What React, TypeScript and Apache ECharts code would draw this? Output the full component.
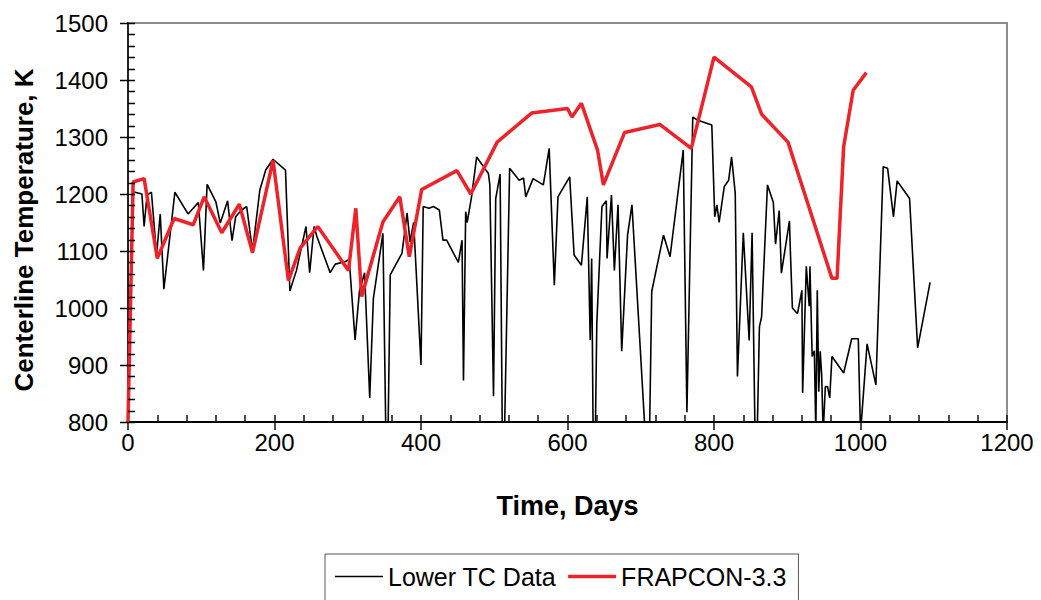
import React, { useEffect, useRef } from "react";
import * as echarts from "echarts";

const xTicks = [0, 200, 400, 600, 800, 1000, 1200];
const yTicks = [800, 900, 1000, 1100, 1200, 1300, 1400, 1500];

const lowerTCDays = [7, 19, 22, 26, 32, 39, 44, 49, 64, 82, 96, 103, 108, 120, 126, 136, 142, 147, 155, 162, 170, 180, 188, 198, 215, 221, 230, 243, 248, 254, 258, 276, 283, 296, 302, 310, 316, 323, 330, 335, 348, 352, 355, 358, 374, 381, 385, 390, 400, 403, 411, 417, 425, 430, 435, 451, 456, 458, 461, 463, 469, 476, 487, 492, 494, 499, 502, 508, 511, 514, 521, 534, 540, 543, 553, 567, 575, 582, 587, 603, 609, 619, 627, 631, 633, 635, 638, 640, 647, 653, 654, 660, 664, 669, 674, 682, 688, 706, 712, 715, 731, 740, 758, 763, 771, 777, 797, 801, 804, 807, 814, 820, 824, 829, 832, 840, 848, 852, 856, 859, 862, 865, 873, 881, 884, 889, 892, 903, 904, 907, 914, 920, 921, 926, 930, 931, 934, 937, 939, 941, 943, 945, 947, 949, 952, 955, 958, 961, 977, 988, 997, 1000, 1009, 1021, 1031, 1037, 1045, 1050, 1067, 1078, 1095];
const lowerTCTemp = [1204, 1200, 1143, 1198, 1203, 1093, 1165, 1033, 1203, 1165, 1185, 1066, 1217, 1186, 1149, 1188, 1118, 1160, 1172, 1178, 1100, 1207, 1242, 1261, 1242, 1030, 1066, 1143, 1062, 1143, 1125, 1062, 1077, 1081, 1085, 944, 1030, 1062, 842, 1017, 1131, 780, 780, 1058, 1096, 1167, 1116, 1150, 900, 1178, 1175, 1178, 1172, 1119, 1119, 1080, 1119, 873, 1169, 1150, 1195, 1265, 1245, 1236, 1216, 845, 1192, 1235, 780, 780, 1245, 1224, 1228, 1195, 1227, 1216, 1280, 1040, 1195, 1230, 1093, 1075, 1195, 944, 1087, 780, 780, 973, 1178, 1188, 1087, 1198, 1066, 1181, 924, 1128, 1181, 780, 780, 1029, 1128, 1090, 1277, 817, 1335, 1330, 1321, 1160, 1181, 1150, 1213, 1224, 1265, 1201, 880, 1132, 943, 1132, 780, 780, 967, 985, 1216, 1185, 1112, 1171, 1061, 1153, 1110, 1000, 990, 1031, 851, 1073, 1003, 1073, 915, 925, 780, 1031, 853, 924, 883, 780, 862, 862, 842, 915, 886, 946, 946, 780, 937, 865, 1248, 1245, 1160, 1223, 1192, 930, 1045];

const frapconDays = [0, 7, 22, 40, 63, 89, 104, 128, 152, 170, 198, 219, 235, 259, 301, 311, 319, 348, 371, 384, 401, 449, 468, 504, 551, 600, 606, 619, 641, 649, 678, 726, 769, 800, 851, 865, 901, 961, 968, 977, 990, 1008];
const frapconTemp = [800, 1221, 1227, 1087, 1157, 1146, 1195, 1132, 1182, 1097, 1259, 1048, 1105, 1143, 1066, 1175, 1020, 1151, 1195, 1090, 1208, 1241, 1200, 1291, 1342, 1350, 1335, 1359, 1277, 1216, 1308, 1322, 1280, 1440, 1388, 1340, 1291, 1052, 1052, 1283, 1382, 1413];

const FONT = "'Liberation Sans', Arial, sans-serif";
const TICK = "#111";

export default function App() {
  const ref = useRef<HTMLDivElement>(null);
  useEffect(() => {
    if (!ref.current) return;
    const chart = echarts.init(ref.current, null, { renderer: "svg" });
    const xMin = xTicks[0];
    const xMax = xTicks[xTicks.length - 1];
    const xInt = xTicks[1] - xTicks[0];
    const yMin = yTicks[0];
    const yMax = yTicks[yTicks.length - 1];
    const yInt = yTicks[1] - yTicks[0];
    const mkLine = () => ({ show: true, lineStyle: { color: "#000", width: 1.5 } });
    const mkTick = () => ({ color: TICK, width: 1.5 });
    const plain = (v: number) => String(v);
    const titleGraphic = {
      type: "text",
      id: "ytitle",
      x: 24,
      y: 230,
      rotation: Math.PI / 2,
      style: {
        text: "Centerline Temperature, K",
        font: "bold 26px 'Liberation Sans', Arial, sans-serif",
        fill: "#000",
        textAlign: "center",
        textVerticalAlign: "middle",
      },
    };
    chart.setOption({
      animation: false,
      backgroundColor: "#fff",
      textStyle: { fontFamily: FONT },
      grid: {
        left: 128,
        right: 34,
        top: 23,
        bottom: 178,
        show: true,
        borderColor: "#8c8c8c",
        borderWidth: 2,
        backgroundColor: "transparent",
      },
      graphic: [titleGraphic],
      legend: {
        left: 325,
        top: 554,
        padding: [10, 12, 30, 10],
        borderColor: "#555",
        borderWidth: 1,
        itemWidth: 48,
        itemHeight: 14,
        itemGap: 12,
        textStyle: { fontFamily: FONT, fontSize: 25, color: "#000" },
        data: [
          { name: "Lower TC Data", icon: "path://M0,0L0,0M48,14L48,14M0,6.2H48V7.8H0Z", itemStyle: { color: "#000" } },
          { name: "FRAPCON-3.3", icon: "path://M0,0L0,0M48,14L48,14M0,5.25H48V8.75H0Z", itemStyle: { color: "#ee2229" } },
        ],
      },
      xAxis: [
        {
          type: "value", min: xMin, max: xMax, interval: xInt, position: "bottom",
          axisLine: mkLine(), splitLine: { show: false },
          name: "Time, Days",
          nameLocation: "middle",
          nameGap: 70,
          nameTextStyle: { fontFamily: FONT, fontSize: 27, fontWeight: "bold", color: "#000" },
          axisTick: { show: false },
          axisLabel: { margin: 8, fontSize: 24, color: "#000", fontFamily: FONT, formatter: plain },
        },
        {
          type: "value", min: xMin, max: xMax, interval: xInt, position: "bottom",
          axisLine: mkLine(), splitLine: { show: false },
          axisTick: { show: true, inside: true, length: 7, lineStyle: mkTick() },
          minorTick: { show: true, splitNumber: 5, length: 7, lineStyle: mkTick() },
          axisLabel: { show: false },
        },
        {
          type: "value", min: xMin, max: xMax, interval: xInt, position: "bottom",
          axisLine: mkLine(), splitLine: { show: false },
          axisTick: { show: true, inside: false, length: 8, lineStyle: mkTick() },
          axisLabel: { show: false },
        },
      ],
      yAxis: [
        {
          type: "value", min: yMin, max: yMax, interval: yInt, position: "left",
          axisLine: mkLine(), splitLine: { show: false },
          axisTick: { show: false },
          axisLabel: { margin: 20, fontSize: 24, color: "#000", fontFamily: FONT, formatter: plain },
        },
      ],
      series: [
        {
          name: "Lower TC Data",
          type: "line",
          xAxisIndex: 0,
          yAxisIndex: 0,
          symbol: "none",
          clip: true,
          lineStyle: { color: "#000", width: 1.6 },
          itemStyle: { color: "#000" },
          data: lowerTCDays.map((d, i) => [d, lowerTCTemp[i]]),
          z: 2,
        },
        {
          name: "FRAPCON-3.3",
          type: "line",
          xAxisIndex: 0,
          yAxisIndex: 0,
          symbol: "none",
          clip: true,
          lineStyle: { color: "#ee2229", width: 3.5 },
          itemStyle: { color: "#ee2229" },
          data: frapconDays.map((d, i) => [d, frapconTemp[i]]),
          z: 3,
        },
      ],
    });

    // y-axis major (crossing) and minor (inside) ticks, placed through the axis scale
    const axisX = chart.convertToPixel({ xAxisIndex: 0 }, xMin) as number;
    const tickEls: any[] = [];
    const minorStep = yInt / 5;
    yTicks.forEach((v, i) => {
      const py = Math.round(chart.convertToPixel({ yAxisIndex: 0 }, v) as number) + 0.5;
      tickEls.push({
        type: "line",
        silent: true,
        z: 20,
        shape: { x1: axisX - 8, y1: py, x2: axisX + 7, y2: py },
        style: { stroke: "#000", lineWidth: 1.5 },
      });
      if (i < yTicks.length - 1) {
        for (let k = 1; k < 5; k++) {
          const pm = Math.round(chart.convertToPixel({ yAxisIndex: 0 }, v + k * minorStep) as number) + 0.5;
          tickEls.push({
            type: "line",
            silent: true,
            z: 20,
            shape: { x1: axisX, y1: pm, x2: axisX + 7, y2: pm },
            style: { stroke: "#000", lineWidth: 1.5 },
          });
        }
      }
    });
    chart.setOption({ graphic: [titleGraphic, ...tickEls] });

    return () => chart.dispose();
  }, []);
  return (
    <div
      ref={ref}
      style={{ position: "absolute", left: 0, top: 0, width: 1041, height: 600, background: "#fff" }}
    />
  );
}
